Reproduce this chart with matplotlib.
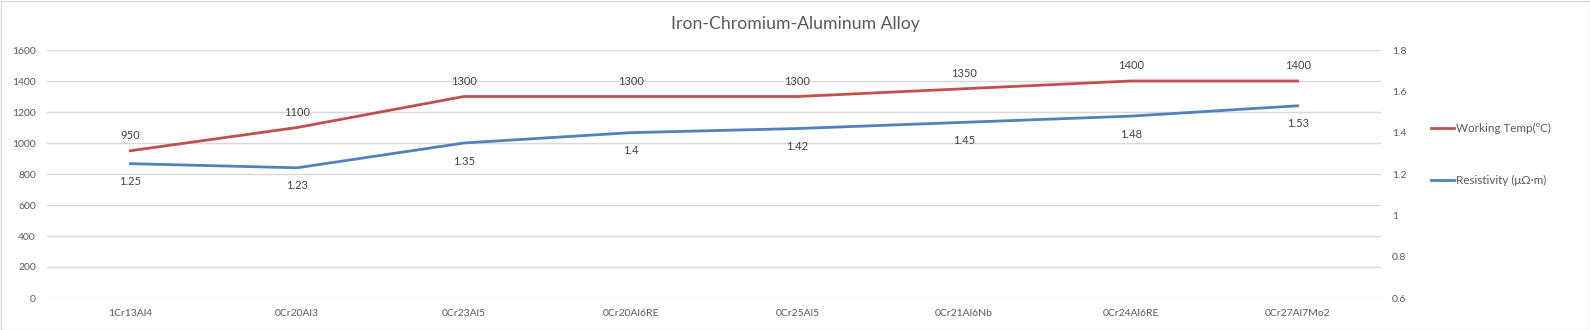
import numpy as np
import matplotlib.pyplot as plt
from matplotlib.patches import Rectangle

alloys = ["1Cr13Al4", "0Cr20Al3", "0Cr23Al5", "0Cr20Al6RE", "0Cr25Al5",
          "0Cr21Al6Nb", "0Cr24Al6RE", "0Cr27Al7Mo2"]
temp = [950, 1100, 1300, 1300, 1300, 1350, 1400, 1400]
resist = [1.25, 1.23, 1.35, 1.4, 1.42, 1.45, 1.48, 1.53]
temp_ticks = [0, 200, 400, 600, 800, 1000, 1200, 1400, 1600]
resist_ticks = [0.6, 0.8, 1, 1.2, 1.4, 1.6, 1.8]

plt.rcParams['font.family'] = ['Lato', 'DejaVu Sans']
grey = '#595959'
red = '#C0504D'
blue = '#4F81BD'

fig = plt.figure(figsize=(15.9, 3.3), dpi=100)
ax = fig.add_axes([47/1590, 1-298/330, (1381-47)/1590, (298-50)/330])
ax2 = ax.twinx()

x = np.arange(len(alloys))
l1, = ax.plot(x, temp, color=red, linewidth=2)
l2, = ax2.plot(x, resist, color=blue, linewidth=2)

for xi, v in zip(x, temp):
    ax.annotate(str(v), (xi, v), xytext=(0, 11), textcoords='offset points',
                ha='center', va='center', fontsize=8, color='#404040')
for xi, v in zip(x, resist):
    ax2.annotate(f"{v:g}", (xi, v), xytext=(0, -13), textcoords='offset points',
                 ha='center', va='center', fontsize=8, color='#404040')

ax.set_xlim(-0.5, len(alloys) - 0.5)
ax.set_ylim(0, 1600)
ax.set_yticks(temp_ticks)
ax2.set_ylim(0.6, 1.8)
ax2.set_yticks(resist_ticks)
ax2.set_yticklabels([f"{t:g}" for t in resist_ticks])
ax.set_xticks(x)
ax.set_xticklabels(alloys)

ax.grid(axis='y', color='#D9D9D9', linewidth=1)
ax.set_axisbelow(True)
for a in (ax, ax2):
    for s in a.spines.values():
        s.set_visible(False)
    a.tick_params(length=0, labelsize=7.5, labelcolor=grey)
ax.tick_params(axis='y', pad=8)
ax.tick_params(axis='x', pad=8)
ax2.tick_params(axis='y', pad=8)

fig.text(0.5, 1-24/330, "Iron-Chromium-Aluminum Alloy", ha='center', va='center',
         fontsize=12.7, color=grey)

fig.legend([l1, l2], ["Working Temp(ºC)", "Resistivity (μΩ·m)"],
           loc='upper left', bbox_to_anchor=(1426/1590, 1-118/330),
           frameon=False, fontsize=8.4, labelcolor=grey, handlelength=2.0,
           handletextpad=0.2, labelspacing=3.5, borderaxespad=0)

fig.patches.append(Rectangle((0.5/1590, 0.5/330), 1-1/1590, 1-1/330,
                             transform=fig.transFigure, fill=False,
                             edgecolor='#D9D9D9', linewidth=1))

plt.savefig("out.png", dpi=100)
